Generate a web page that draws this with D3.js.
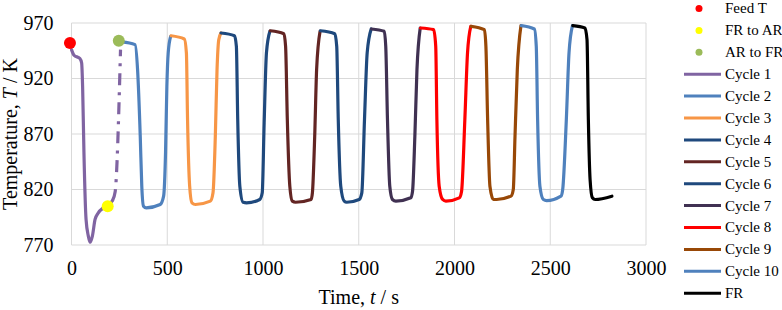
<!DOCTYPE html>
<html>
<head>
<meta charset="utf-8">
<script src="https://cdn.jsdelivr.net/npm/d3@7"></script>
<style>
    body { margin: 0; background: #fff; }
    text { font-family: "Liberation Serif", "Times New Roman", serif; fill: #000; }
</style>
</head>
<body>
<div id="chart"></div>
<script>
// Temperature of the bed over the cycles
// each cycle is [time s, temperature K]
var cycle1 = [[0, 946], [13, 941], [44, 938], [53, 934], [58, 913], [65, 853], [76, 793], [88, 778],
    [97, 772.5], [109, 778], [123, 793], [140, 799], [163, 803], [189, 805], [214, 810]];
var cycle1Dash = [[214, 810], [228, 818], [256, 946]];
var cycle2 = [[262, 953], [332, 950.5], [345, 928], [359, 868], [367, 823], [376, 805], [390, 803.5],
    [463, 806.5], [481, 814], [491, 853], [498, 913], [505, 943], [518, 958]];
var cycle3 = [[520, 958.5], [589, 955.6], [600, 943], [606, 883], [617, 823], [629, 808], [647, 806.5],
    [725, 809.5], [739, 817], [751, 868], [760, 928], [769, 955], [781, 961]];
var cycle4 = [[781, 961], [851, 958.6], [861, 949], [868, 883], [879, 823], [896, 808.5], [914, 808],
    [983, 811], [996, 817], [1006, 880], [1018, 943], [1036, 962.5]];
var cycle5 = [[1038, 963], [1109, 960.4], [1118, 949], [1127, 883], [1140, 823], [1153, 809.5], [1170, 808.5],
    [1251, 811], [1258, 817], [1270, 868], [1280, 928], [1298, 962.5]];
var cycle6 = [[1300, 963], [1375, 960.4], [1385, 949], [1393, 883], [1406, 823], [1424, 809.5], [1437, 808.5],
    [1502, 811], [1516, 817], [1530, 883], [1544, 943], [1565, 964.6]];
var cycle7 = [[1567, 964.6], [1633, 962.5], [1641, 949], [1650, 883], [1662, 823], [1676, 811], [1694, 809.5],
    [1772, 812.5], [1781, 818.5], [1793, 868], [1804, 928], [1821, 965.5]];
var cycle8 = [[1823, 965.5], [1891, 964], [1902, 949], [1908, 883], [1920, 823], [1938, 811], [1955, 809.5],
    [2025, 812.5], [2037, 818.5], [2054, 883], [2068, 943], [2085, 967]];
var cycle9 = [[2087, 967], [2156, 964], [2164, 949], [2173, 883], [2185, 823], [2203, 811], [2220, 811],
    [2295, 814], [2307, 820], [2316, 868], [2328, 928], [2347, 967.6]];
var cycle10 = [[2349, 967.6], [2417, 964.6], [2427, 949], [2434, 883], [2446, 823], [2464, 811], [2481, 810],
    [2556, 814], [2565, 820], [2584, 883], [2598, 943], [2616, 967.6]];
var frCycle = [[2618, 967.6], [2681, 965.5], [2692, 955], [2699, 883], [2708, 829], [2720, 812.5], [2734, 811],
    [2822, 814]];

// single points
var feedT = [[-8, 952]];
var frToAr = [[189, 805]];
var arToFr = [[247, 954]];

var xTicks = [0, 500, 1000, 1500, 2000, 2500, 3000];
var yTicks = [770, 820, 870, 920, 970];

var series = [
    { name: "Cycle 1", data: cycle1, color: "#8064A2" },
    { name: "Cycle 2", data: cycle2, color: "#4F81BD" },
    { name: "Cycle 3", data: cycle3, color: "#F79646" },
    { name: "Cycle 4", data: cycle4, color: "#1F497D" },
    { name: "Cycle 5", data: cycle5, color: "#632523" },
    { name: "Cycle 6", data: cycle6, color: "#1F497D" },
    { name: "Cycle 7", data: cycle7, color: "#403152" },
    { name: "Cycle 8", data: cycle8, color: "#FF0000" },
    { name: "Cycle 9", data: cycle9, color: "#984807" },
    { name: "Cycle 10", data: cycle10, color: "#4F81BD" },
    { name: "FR", data: frCycle, color: "#000000" }
];
var points = [
    { name: "Feed T", data: feedT, color: "#FF0000" },
    { name: "FR to AR", data: frToAr, color: "#FFFF00" },
    { name: "AR to FR", data: arToFr, color: "#9BBB59" }
];

var width = 782, height = 310;
var plot = { left: 71.5, right: 646, top: 23, bottom: 245 };

var svg = d3.select("#chart").append("svg")
    .attr("width", width)
    .attr("height", height);

var x = d3.scaleLinear().domain([0, 3000]).range([plot.left, plot.right]);
var y = d3.scaleLinear().domain([770, 970]).range([plot.bottom, plot.top]);

//Gridlines, excel style light grey
svg.append("g").selectAll("line.h")
    .data(yTicks)
    .enter().append("line")
    .attr("x1", plot.left).attr("x2", plot.right)
    .attr("y1", function (d) { return y(d); })
    .attr("y2", function (d) { return y(d); })
    .attr("stroke", "#d9d9d9").attr("stroke-width", 1);
svg.append("g").selectAll("line.v")
    .data(xTicks)
    .enter().append("line")
    .attr("y1", plot.top).attr("y2", plot.bottom)
    .attr("x1", function (d) { return x(d); })
    .attr("x2", function (d) { return x(d); })
    .attr("stroke", "#d9d9d9").attr("stroke-width", 1);

//Axis labels through d3 axes, domain and ticks hidden
var yAxis = svg.append("g")
    .attr("transform", "translate(" + plot.left + ",0)")
    .call(d3.axisLeft(y).tickValues(yTicks).tickSize(0).tickPadding(18));
var xAxis = svg.append("g")
    .attr("transform", "translate(0," + plot.bottom + ")")
    .call(d3.axisBottom(x).tickValues(xTicks).tickSize(0).tickPadding(16).tickFormat(d3.format("d")));
[yAxis, xAxis].forEach(function (a) {
    a.select(".domain").remove();
    a.selectAll("text").style("font-size", "20px").attr("font-family", null);
});

//Axis titles
svg.append("text")
    .attr("transform", "translate(17," + ((plot.top + plot.bottom) / 2) + ") rotate(-90)")
    .attr("text-anchor", "middle")
    .style("font-size", "20px")
    .html("Temperature, <tspan font-style='italic'>T</tspan> / K");
svg.append("text")
    .attr("x", (plot.left + plot.right) / 2)
    .attr("y", 304)
    .attr("text-anchor", "middle")
    .style("font-size", "20px")
    .html("Time, <tspan font-style='italic'>t</tspan> / s");

var line = d3.line()
    .x(function (d) { return x(d[0]); })
    .y(function (d) { return y(d[1]); })
    .curve(d3.curveMonotoneX);

//Cycle lines
svg.append("g").selectAll("path")
    .data(series)
    .enter().append("path")
    .attr("d", function (d) { return line(d.data); })
    .attr("fill", "none")
    .attr("stroke", function (d) { return d.color; })
    .attr("stroke-width", 3.2)
    .attr("stroke-linejoin", "round")
    .attr("stroke-linecap", "round");

//AR to FR transfer in cycle 1 is dash dot
svg.append("path")
    .attr("d", line(cycle1Dash))
    .attr("fill", "none")
    .attr("stroke", "#8064A2")
    .attr("stroke-width", 3.2)
    .attr("stroke-dasharray", "12,7,3,7");

//Marker points on top
points.forEach(function (p) {
    svg.append("g").selectAll("circle")
        .data(p.data)
        .enter().append("circle")
        .attr("cx", function (d) { return x(d[0]); })
        .attr("cy", function (d) { return y(d[1]); })
        .attr("r", 6)
        .attr("fill", p.color);
});

//Legend on the right
var legendRows = points.map(function (p) { return { name: p.name, color: p.color, type: "dot" }; })
    .concat(series.map(function (s) { return { name: s.name, color: s.color, type: "line" }; }));
var legend = svg.append("g").selectAll("g")
    .data(legendRows)
    .enter().append("g")
    .attr("transform", function (d, i) { return "translate(0," + (8.5 + i * 21.9) + ")"; });
legend.filter(function (d) { return d.type == "dot"; })
    .append("circle")
    .attr("cx", 699).attr("cy", 0).attr("r", 3.5)
    .attr("fill", function (d) { return d.color; });
legend.filter(function (d) { return d.type == "line"; })
    .append("line")
    .attr("x1", 684).attr("x2", 721).attr("y1", 0).attr("y2", 0)
    .attr("stroke", function (d) { return d.color; })
    .attr("stroke-width", 3);
legend.append("text")
    .attr("x", 725)
    .attr("dy", "0.33em")
    .style("font-size", "15px")
    .text(function (d) { return d.name; });
</script>
</body>
</html>
